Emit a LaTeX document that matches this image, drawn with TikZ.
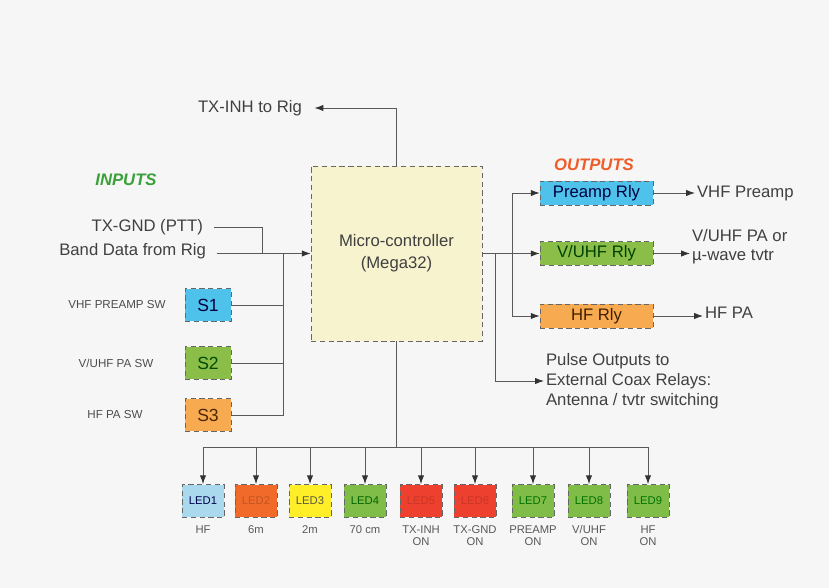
\documentclass[tikz,border=0pt]{standalone}
\usepackage{fontspec}
\setmainfont{Liberation Sans}
\usetikzlibrary{arrows.meta}
\definecolor{pagebg}{RGB}{246,246,246}
\definecolor{mcublock}{RGB}{246,243,206}
\definecolor{blueblock}{RGB}{78,194,234}
\definecolor{greenblock}{RGB}{138,190,72}
\definecolor{orangeblock}{RGB}{248,170,80}
\definecolor{ledblue}{RGB}{170,217,238}
\definecolor{ledorange}{RGB}{242,106,42}
\definecolor{ledyellow}{RGB}{255,238,40}
\definecolor{ledgreen}{RGB}{128,188,72}
\definecolor{ledred}{RGB}{238,64,46}
\definecolor{inputsgreen}{RGB}{58,160,58}
\definecolor{outputsred}{RGB}{240,92,40}

\begin{document}
\begin{tikzpicture}[x=0.02cm, y=-0.02cm,
	box/.style={draw=black!60, densely dashed, line width=0.4pt, inner sep=0pt, align=center},
	wire/.style={draw=black!65, line width=0.5pt},
	arr/.style={wire, -{Latex[length=5pt,width=3.6pt,color=black!80]}},
	txt/.style={font=\fontsize{9.5}{11}\selectfont, text=black!75, inner sep=1pt},
	small/.style={font=\fontsize{6.6}{7.5}\selectfont, text=black!70, inner sep=1pt},
	ledtxt/.style={font=\fontsize{6.4}{7.5}\selectfont, text=black!65, inner sep=0pt, anchor=base},
	head/.style={font=\fontsize{9.5}{11}\selectfont\bfseries\itshape}]
	
	\useasboundingbox (0,0) rectangle (829,588);
	\fill[pagebg] (0,0) rectangle (829,588);
	
	% controller in the middle
	\node[box, fill=mcublock, minimum width=3.42cm, minimum height=3.5cm,
	      font=\fontsize{9.5}{12.5}\selectfont, text=black!75] (mcu) at (396.5,253.5)
	      {Micro-controller\\(Mega32)};
	
	\node[txt, anchor=east] (txinh) at (304,108) {TX-INH to Rig};
	\draw[arr] (mcu.north) |- ([xshift=6pt]txinh.east);
	
	% inputs
	\node[head, text=inputsgreen] (inputs) at (126,180) {INPUTS};
	\node[txt, anchor=east] (txgnd) at (205,227) {TX-GND (PTT)};
	\node[txt, anchor=east] (band) at (208,251) {Band Data from Rig};
	\coordinate (jgnd) at (262,253.5);
	\coordinate (jsw) at (283,253.5);
	\draw[wire] ([xshift=5pt]txgnd.east) -| (jgnd);
	\draw[arr] ([xshift=5pt]band.east |- mcu.west) -- (mcu.west);
	
	\node[box, fill=blueblock, minimum width=0.92cm, minimum height=0.66cm,
	      font=\fontsize{10}{12}\selectfont, text=black!75!blue] (s1) at (208,305) {S1};
	\node[box, fill=greenblock, minimum width=0.92cm, minimum height=0.66cm,
	      font=\fontsize{10}{12}\selectfont, text=black!70!green] (s2) at (208,363) {S2};
	\node[box, fill=orangeblock, minimum width=0.92cm, minimum height=0.66cm,
	      font=\fontsize{10}{12}\selectfont, text=black!70!orange] (s3) at (208,415) {S3};
	
	\node[small] (s1lab) at (117,305) {VHF PREAMP SW};
	\node[small] (s2lab) at (116,363) {V/UHF PA SW};
	\node[small] (s3lab) at (115,415) {HF PA SW};
	
	\draw[wire] (s3.east) -| (jsw);
	\draw[wire] (s1.east) -- (s1.east -| jsw);
	\draw[wire] (s2.east) -- (s2.east -| jsw);
	
	% outputs
	\node[head, text=outputsred] (outputs) at (594,165) {OUTPUTS};
	\node[box, fill=blueblock, minimum width=2.26cm, minimum height=0.48cm,
	      font=\fontsize{9.5}{11}\selectfont, text=black!75!blue] (pre) at (596.5,193) {Preamp Rly};
	\node[box, fill=greenblock, minimum width=2.26cm, minimum height=0.48cm,
	      font=\fontsize{9.5}{11}\selectfont, text=black!75!green] (vuhf) at (596.5,253.5) {V/UHF Rly};
	\node[box, fill=orangeblock, minimum width=2.26cm, minimum height=0.48cm,
	      font=\fontsize{9.5}{11}\selectfont, text=black!75!orange] (hfr) at (596.5,316) {HF Rly};
	
	\coordinate (jout) at (512,253.5);
	\coordinate (jpulse) at (495,253.5);
	\draw[wire] (mcu.east) -- (jout);
	\draw[arr] (jout) |- (pre.west);
	\draw[arr] (jout) -- (vuhf.west);
	\draw[arr] (jout) |- (hfr.west);
	
	\node[txt, anchor=west] (vhfp) at (695,193) {VHF Preamp};
	\node[txt, anchor=west, align=left] (vuhfpa) at (690,247) {V/UHF PA or\\µ-wave tvtr};
	\node[txt, anchor=west] (hfpa) at (703,313) {HF PA};
	\draw[arr] (pre.east) -- (vhfp.west);
	\draw[arr] (vuhf.east) -- (vuhf.east -| vuhfpa.west);
	\draw[arr] (hfr.east) -- (hfr.east -| hfpa.west);
	
	\node[txt, anchor=west, align=left, font=\fontsize{9.5}{11.5}\selectfont] (pulse) at (544,381)
	      {Pulse Outputs to\\External Coax Relays:\\Antenna / tvtr switching};
	\draw[arr] (jpulse) |- (pulse.west);
	
	% LED row
	\coordinate (jled) at (396.5,447);
	\draw[wire] (mcu.south) -- (jled);
	\foreach \i/\x/\col/\tcol/\laba/\labb in {
		1/203/ledblue/black!70!blue/HF/,
		2/256/ledorange/ledorange!80!black/6m/,
		3/310/ledyellow/black!75!yellow/2m/,
		4/365/ledgreen/black!60!green/70 cm/,
		5/421/ledred/ledred!85!black/TX-INH/ON,
		6/475/ledred/ledred!85!black/TX-GND/ON,
		7/533/ledgreen/black!55!green/PREAMP/ON,
		8/589/ledgreen/black!55!green/{V/UHF}/ON,
		9/648/ledgreen/black!55!green/HF/ON}
	{
		\node[box, fill=\col, minimum width=0.84cm, minimum height=0.66cm,
		      font=\fontsize{6.4}{7.5}\selectfont, text=\tcol] (led\i) at (\x,501) {LED\i};
		\node[ledtxt] (ledlab\i) at (\x,533) {\laba};
		\node[ledtxt] (ledon\i) at (\x,545) {\labb};
		\draw[arr] (led\i.north |- jled) -- (led\i.north);
	}
	\draw[wire] (led1.north |- jled) -- (led9.north |- jled);
	
\end{tikzpicture}
\end{document}
